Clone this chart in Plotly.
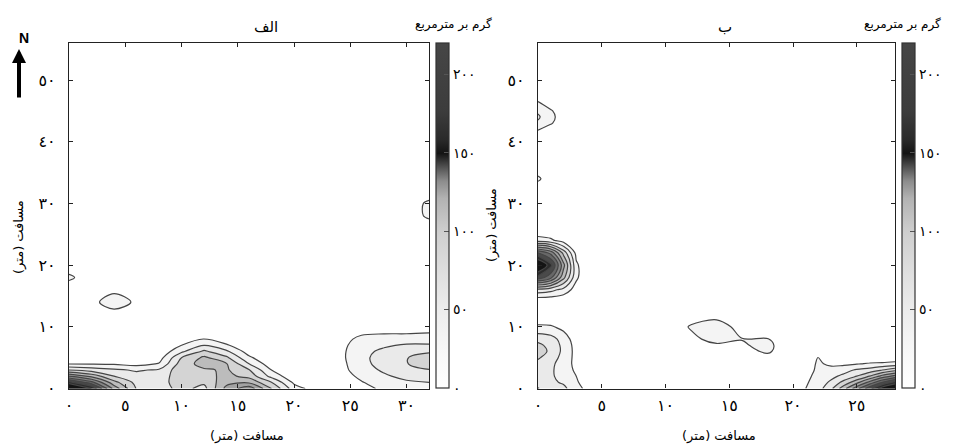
import plotly.graph_objects as go

# ---------------- data ----------------
# Panel الف : grid positions (metres) and density (g/m2)
X_A = [0, 2, 4, 6, 8, 10, 12, 14, 16, 18, 20, 22, 24, 26, 28, 30, 32]
Y_A = [0, 1, 2, 3, 4, 5, 6, 7, 8, 9, 10, 12, 14, 16, 18, 20, 26, 28, 30, 32, 56]
Z_A = [
    [190, 150, 85, 44, 38, 50, 40, 80, 100, 60, 22, 8, 3, 10, 18, 22, 24],
    [140, 110, 65, 40, 37, 55, 48, 70, 72, 45, 12, 2, 4, 14, 24, 28, 30],
    [90, 70, 45, 36, 35, 56, 55, 64, 55, 25, 4, 0, 6, 19, 28, 34, 38],
    [45, 38, 33, 28, 32, 55, 58, 62, 46, 15, 0, 0, 8, 24, 32, 40, 44],
    [14, 14, 13, 10, 16, 52, 66, 61, 30, 6, 0, 0, 9, 26, 35, 44, 56],
    [4, 3, 3, 2, 8, 45, 63, 48, 18, 1, 0, 0, 10, 27, 35, 44, 55],
    [0, 0, 0, 0, 3, 27, 48, 33, 8, 0, 0, 0, 10, 26, 33, 40, 42],
    [0, 0, 0, 0, 0, 15, 30, 17, 2, 0, 0, 0, 9, 24, 28, 32, 32],
    [0, 0, 0, 0, 0, 6, 16, 6, 0, 0, 0, 0, 7, 20, 21, 22, 22],
    [0, 0, 0, 0, 0, 2, 6, 1, 0, 0, 0, 0, 3, 12, 14, 14, 15],
    [0, 0, 0, 0, 0, 0, 1, 0, 0, 0, 0, 0, 0, 4, 5, 6, 8],
    [0, 0, 8, 0, 0, 0, 0, 0, 0, 0, 0, 0, 0, 0, 1, 2, 2],
    [0, 10, 24, 12, 0, 0, 0, 0, 0, 0, 0, 0, 0, 0, 0, 0, 0],
    [0, 4, 11, 4, 0, 0, 0, 0, 0, 0, 0, 0, 0, 0, 0, 0, 0],
    [20, 0, 0, 0, 0, 0, 0, 0, 0, 0, 0, 0, 0, 0, 0, 0, 0],
    [0, 0, 0, 0, 0, 0, 0, 0, 0, 0, 0, 0, 0, 0, 0, 0, 0],
    [0, 0, 0, 0, 0, 0, 0, 0, 0, 0, 0, 0, 0, 0, 0, 0, 0],
    [0, 0, 0, 0, 0, 0, 0, 0, 0, 0, 0, 0, 0, 0, 0, 0, 20],
    [0, 0, 0, 0, 0, 0, 0, 0, 0, 0, 0, 0, 0, 0, 0, 0, 20],
    [0, 0, 0, 0, 0, 0, 0, 0, 0, 0, 0, 0, 0, 0, 0, 0, 0],
    [0, 0, 0, 0, 0, 0, 0, 0, 0, 0, 0, 0, 0, 0, 0, 0, 0],
]

# Panel ب
X_B = [0, 1, 2, 3, 4, 6, 8, 10, 12, 14, 16, 18, 20, 22, 23, 24, 25, 26, 27, 28]
Y_B = [0, 1, 2, 3, 4, 5, 6, 7, 8, 10, 12, 14, 16, 18, 20, 22, 24, 26, 32, 34, 36, 40, 42, 43, 44, 45, 46, 48, 56]
Z_B = [
    [46, 35, 34, 20, 10, 0, 0, 0, 0, 0, 0, 0, 6, 24, 42, 70, 100, 130, 160, 180],
    [38, 33, 28, 17, 6, 0, 0, 0, 0, 0, 0, 0, 4, 22, 33, 50, 70, 95, 120, 140],
    [36, 32, 25, 15, 4, 0, 0, 0, 0, 0, 0, 0, 2, 20, 26, 34, 45, 60, 80, 95],
    [37, 32, 24, 12, 2, 0, 0, 0, 0, 0, 0, 0, 0, 18, 20, 24, 32, 36, 45, 55],
    [40, 33, 24, 10, 1, 0, 0, 0, 0, 0, 0, 2, 0, 17, 12, 12, 14, 17, 18, 20],
    [47, 37, 25, 10, 0, 0, 0, 0, 0, 0, 2, 8, 0, 16, 4, 2, 2, 2, 3, 5],
    [52, 42, 26, 10, 0, 0, 0, 0, 0, 6, 8, 18, 0, 3, 0, 0, 0, 0, 0, 0],
    [49, 40, 26, 9, 0, 0, 0, 0, 3, 12, 13, 20, 0, 0, 0, 0, 0, 0, 0, 0],
    [40, 36, 24, 6, 0, 0, 0, 0, 10, 22, 15.5, 16, 0, 0, 0, 0, 0, 0, 0, 0],
    [18, 17, 10, 0, 0, 0, 0, 0, 17, 24, 8, 2, 0, 0, 0, 0, 0, 0, 0, 0],
    [0, 0, 0, 0, 0, 0, 0, 0, 5, 8, 0, 0, 0, 0, 0, 0, 0, 0, 0, 0],
    [0, 0, 0, 0, 0, 0, 0, 0, 0, 0, 0, 0, 0, 0, 0, 0, 0, 0, 0, 0],
    [40, 35, 25, 8, 0, 0, 0, 0, 0, 0, 0, 0, 0, 0, 0, 0, 0, 0, 0, 0],
    [130, 110, 65, 18, 0, 0, 0, 0, 0, 0, 0, 0, 0, 0, 0, 0, 0, 0, 0, 0],
    [175, 140, 80, 18, 0, 0, 0, 0, 0, 0, 0, 0, 0, 0, 0, 0, 0, 0, 0, 0],
    [120, 100, 55, 10, 0, 0, 0, 0, 0, 0, 0, 0, 0, 0, 0, 0, 0, 0, 0, 0],
    [22, 18, 8, 0, 0, 0, 0, 0, 0, 0, 0, 0, 0, 0, 0, 0, 0, 0, 0, 0],
    [0, 0, 0, 0, 0, 0, 0, 0, 0, 0, 0, 0, 0, 0, 0, 0, 0, 0, 0, 0],
    [0, 0, 0, 0, 0, 0, 0, 0, 0, 0, 0, 0, 0, 0, 0, 0, 0, 0, 0, 0],
    [19, 2, 0, 0, 0, 0, 0, 0, 0, 0, 0, 0, 0, 0, 0, 0, 0, 0, 0, 0],
    [0, 0, 0, 0, 0, 0, 0, 0, 0, 0, 0, 0, 0, 0, 0, 0, 0, 0, 0, 0],
    [0, 0, 0, 0, 0, 0, 0, 0, 0, 0, 0, 0, 0, 0, 0, 0, 0, 0, 0, 0],
    [16, 6, 0, 0, 0, 0, 0, 0, 0, 0, 0, 0, 0, 0, 0, 0, 0, 0, 0, 0],
    [28, 17, 4, 0, 0, 0, 0, 0, 0, 0, 0, 0, 0, 0, 0, 0, 0, 0, 0, 0],
    [32, 20, 6, 0, 0, 0, 0, 0, 0, 0, 0, 0, 0, 0, 0, 0, 0, 0, 0, 0],
    [28, 17, 4, 0, 0, 0, 0, 0, 0, 0, 0, 0, 0, 0, 0, 0, 0, 0, 0, 0],
    [20, 8, 0, 0, 0, 0, 0, 0, 0, 0, 0, 0, 0, 0, 0, 0, 0, 0, 0, 0],
    [0, 0, 0, 0, 0, 0, 0, 0, 0, 0, 0, 0, 0, 0, 0, 0, 0, 0, 0, 0],
    [0, 0, 0, 0, 0, 0, 0, 0, 0, 0, 0, 0, 0, 0, 0, 0, 0, 0, 0, 0],
]

# tick labels
XTICK_A = [0, 5, 10, 15, 20, 25, 30]
XTEXT_A = ["٠", "٥", "١٠", "١٥", "٢٠", "٢٥", "٣٠"]
XTICK_B = [0, 5, 10, 15, 20, 25]
XTEXT_B = ["٠", "٥", "١٠", "١٥", "٢٠", "٢٥"]
YTICK = [0, 10, 20, 30, 40, 50]
YTEXT = ["٠", "١٠", "٢٠", "٣٠", "٤٠", "٥٠"]
CTICK = [0, 50, 100, 150, 200]
CTEXT = ["٠", "٥٠", "١٠٠", "١٥٠", "٢٠٠"]

TITLE_A = "الف"
TITLE_B = "ب"
AXIS_LABEL = "مسافت (متر)"
CB_TITLE = "گرم بر مترمربع"

# ---------------- styling ----------------
FONT = "DejaVu Sans"
FILL_SCALE = [
    [0.0, "#ffffff"], [0.1, "#f4f4f4"], [0.2, "#eaeaea"], [0.3, "#d4d4d4"],
    [0.4, "#bcbcbc"], [0.5, "#a2a2a2"], [0.6, "#858585"], [0.7, "#686868"],
    [0.8, "#4a4a4a"], [0.9, "#2c2c2c"], [1.0, "#141414"],
]
CB_SCALE = [
    [0.0, "#ffffff"], [0.1, "#f8f8f8"], [0.23, "#ececec"], [0.34, "#dedede"],
    [0.45, "#cfcfcf"], [0.55, "#b2b2b2"], [0.6, "#8c8c8c"], [0.64, "#525252"],
    [0.68, "#141414"], [0.72, "#2a2a2a"], [0.8, "#3c3c3c"], [1.0, "#464646"],
]

# the page body has an 8px margin: figure sized to fit, positions given in screen px
OFF = 8
W, H = 953 - OFF, 446 - OFF


def px(sx):
    return (sx - OFF) / W


def py(sy):
    return 1 - (sy - OFF) / H


dom_xA = [px(69), px(429)]
dom_xB = [px(538), px(895)]
dom_y = [py(388.5), py(43)]


def contour(x, y, z, xa, ya):
    return go.Contour(
        x=x, y=y, z=z, xaxis=xa, yaxis=ya,
        autocontour=False,
        contours=dict(start=15, end=150, size=15, coloring="fill", showlines=True),
        colorscale=FILL_SCALE, showscale=False,
        line=dict(color="#454545", width=1.2, smoothing=1),
        hoverinfo="skip",
    )


def cbar_trace(xa, ya, xpos):
    return go.Scatter(
        x=[None], y=[None], xaxis=xa, yaxis=ya, mode="markers", showlegend=False,
        hoverinfo="skip",
        marker=dict(
            color=[0], cmin=0, cmax=220, colorscale=CB_SCALE, showscale=True,
            colorbar=dict(
                x=px(xpos), xanchor="left", y=py(43), yanchor="top",
                len=345, lenmode="pixels", thickness=13, xpad=0, ypad=0,
                outlinewidth=1.2, outlinecolor="#333333",
                tickvals=CTICK, ticktext=CTEXT, ticks="inside", ticklen=5,
                tickcolor="#555555", tickfont=dict(family=FONT, size=14, color="#000"),
            ),
        ),
    )


fig = go.Figure()
fig.add_trace(contour(X_A, Y_A, Z_A, "x", "y"))
fig.add_trace(contour(X_B, Y_B, Z_B, "x2", "y2"))
fig.add_trace(cbar_trace("x", "y", 435.5))
fig.add_trace(cbar_trace("x2", "y2", 901.5))

axis_common = dict(
    showgrid=False, zeroline=False, showline=True, linecolor="#222222", linewidth=1.3,
    mirror="ticks", ticks="inside", ticklen=4, tickcolor="#222222",
    tickfont=dict(family=FONT, size=16, color="#000"),
)
fig.update_layout(
    width=W, height=H, margin=dict(l=0, r=0, t=0, b=0, autoexpand=False),
    paper_bgcolor="white", plot_bgcolor="white", showlegend=False,
    xaxis=dict(domain=dom_xA, range=[0, 32], anchor="y", tickvals=XTICK_A,
               ticktext=XTEXT_A, ticklabelstandoff=2, **axis_common),
    yaxis=dict(domain=dom_y, range=[0, 56], anchor="x", tickvals=YTICK,
               ticktext=YTEXT, ticklabelstandoff=9, **axis_common),
    xaxis2=dict(domain=dom_xB, range=[0, 28], anchor="y2", tickvals=XTICK_B,
                ticktext=XTEXT_B, ticklabelstandoff=2, **axis_common),
    yaxis2=dict(domain=dom_y, range=[0, 56], anchor="x2", tickvals=YTICK,
                ticktext=YTEXT, ticklabelstandoff=9, **axis_common),
)


def ann(text, x, y, size=13, angle=0, xanchor="center"):
    fig.add_annotation(
        text=text, x=px(x), y=py(y), xref="paper", yref="paper",
        showarrow=False, textangle=angle, xanchor=xanchor, yanchor="middle",
        font=dict(family=FONT, size=size, color="#000"))


ann(TITLE_A, 266, 27, 15)
ann(TITLE_B, 725, 27, 15)
ann(CB_TITLE, 494, 24, 12, xanchor="right")
ann(CB_TITLE, 943, 24, 12, xanchor="right")
ann(AXIS_LABEL, 247, 436, 13)
ann(AXIS_LABEL, 719, 436, 13)
ann(AXIS_LABEL, 19, 237, 13, angle=-90)
ann(AXIS_LABEL, 492, 225, 13, angle=-90)

# north arrow
fig.add_annotation(text="<b>N</b>", x=px(17), y=py(28), xref="paper", yref="paper",
                   showarrow=False, font=dict(family="Liberation Sans", size=14, color="#000"))
fig.add_annotation(text="", x=px(19), y=py(49), xref="paper", yref="paper",
                   showarrow=True, ax=0, ay=50, arrowhead=2, arrowsize=0.7,
                   arrowwidth=4, arrowcolor="#000")

fig.write_html("out.html")
